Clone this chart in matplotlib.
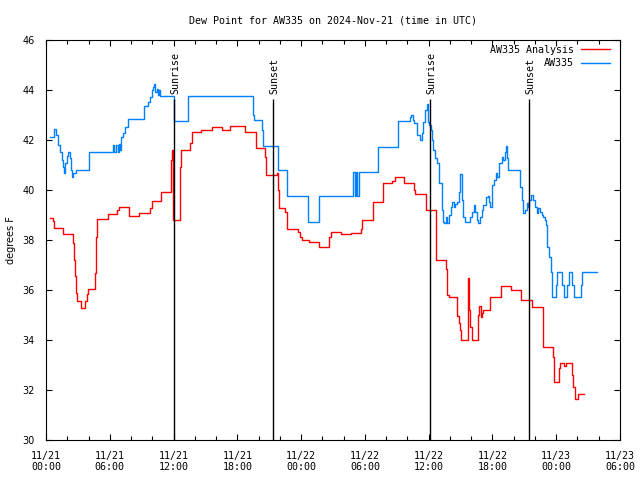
import matplotlib
matplotlib.use("Agg")
import matplotlib.pyplot as plt
from matplotlib.ticker import MultipleLocator

# hours since 2024-11-21 00:00 UTC
analysis_hours = [0.38, 0.63, 0.78, 1.63, 2.57, 2.63, 2.73, 2.79, 2.89, 3.32, 3.67, 3.83, 3.92,
                  4.61, 4.68, 4.77, 5.80, 6.71, 6.87, 7.84, 8.78, 9.78, 9.94, 10.79, 11.73,
                  11.79, 11.85, 11.98, 12.58, 12.70, 13.55, 13.76, 14.58, 15.59, 16.53, 17.30,
                  18.56, 18.72, 19.73, 20.57, 20.70, 21.70, 21.83, 21.89, 22.48, 22.64, 22.70,
                  23.73, 23.89, 24.08, 24.74, 25.71, 26.65, 26.78, 27.75, 28.66, 29.63, 29.75,
                  30.73, 30.79, 31.67, 31.73, 32.58, 32.83, 33.71, 34.65, 34.74, 35.72, 36.66,
                  36.69, 37.63, 37.75, 37.91, 38.69, 38.85, 38.95, 39.07, 39.73, 39.79, 39.89,
                  40.05, 40.67, 40.76, 40.89, 40.99, 41.14, 41.80, 42.78, 43.72, 44.71, 45.69,
                  46.73, 46.78, 47.72, 47.81, 48.23, 48.35, 48.76, 48.89, 49.51, 49.60, 49.76,
                  50.08, 50.64]
analysis_vals = [38.87, 38.75, 38.47, 38.24, 37.87, 37.2, 36.56, 35.89, 35.56, 35.27, 35.56, 35.83, 36.03,
                 36.69, 38.13, 38.83, 39.03, 39.2, 39.31, 38.96, 39.07, 39.27, 39.56, 39.93, 40.53,
                 41.2, 41.6, 38.8, 40.93, 41.6, 41.87, 42.33, 42.4, 42.53, 42.4, 42.57,
                 42.57, 42.33, 41.67, 41.33, 40.6, 40.67, 40.0, 39.27, 39.13, 38.93, 38.43,
                 38.3, 38.1, 38.0, 37.92, 37.7, 38.13, 38.32, 38.24, 38.28, 38.43, 38.79,
                 39.2, 39.53, 40.03, 40.27, 40.37, 40.5, 40.27, 40.0, 39.84, 39.2, 38.2,
                 37.2, 36.83, 35.8, 35.72, 34.96, 34.69, 34.4, 34.0, 36.47, 35.2, 34.53,
                 34.0, 35.0, 35.36, 34.9, 35.07, 35.2, 35.71, 36.16, 36.0, 35.6, 35.33,
                 34.93, 33.73, 33.33, 32.33, 32.87, 33.07, 32.95, 33.07, 32.6, 32.13, 31.64,
                 31.83, 31.83]

station_hours = [0.38, 0.75, 0.94, 1.16, 1.32, 1.48, 1.63, 1.69, 1.79, 1.95, 2.10, 2.26, 2.35, 2.47,
                 2.57, 2.79, 4.07, 6.27, 6.40, 6.60, 6.75, 6.90, 7.00, 7.06, 7.21, 7.43, 7.74,
                 9.25, 9.62, 9.78, 9.97, 10.09, 10.19, 10.28, 10.41, 10.54, 10.63, 10.72, 12.00,
                 13.39, 19.45, 19.57, 20.35, 20.44, 21.80, 22.64, 24.62, 25.71, 28.91, 29.07,
                 29.16, 29.26, 29.47, 31.20, 33.14, 34.24, 34.37, 34.50, 34.62, 34.87, 35.18,
                 35.34, 35.50, 35.66, 35.80, 35.90, 36.05, 36.20, 36.35, 36.45, 36.55, 36.75,
                 36.99, 37.22, 37.37, 37.47, 37.63, 37.75, 37.91, 38.07, 38.22, 38.38, 38.50,
                 38.66, 38.82, 38.97, 39.10, 39.25, 39.41, 39.72, 39.88, 40.04, 40.26, 40.38,
                 40.51, 40.67, 40.83, 40.99, 41.14, 41.40, 41.56, 41.68, 41.78, 41.93, 42.15,
                 42.33, 42.46, 42.61, 42.87, 43.02, 43.18, 43.27, 43.40, 43.49, 44.59, 44.75,
                 44.90, 45.06, 45.22, 45.34, 45.47, 45.63, 45.85, 46.00, 46.17, 46.32, 46.47,
                 46.63, 46.78, 46.94, 47.00, 47.10, 47.32, 47.48, 47.63, 47.95, 48.10, 48.57,
                 48.73, 49.05, 49.20, 49.45, 49.65, 50.30, 50.40, 51.80]
station_vals = [42.13, 42.44, 42.2, 41.8, 41.53, 41.2, 40.93, 40.67, 41.07, 41.36, 41.53, 41.27, 40.8, 40.53,
                40.67, 40.8, 41.5, 41.8, 41.53, 41.8, 41.53, 41.85, 41.6, 42.1, 42.3, 42.53, 42.83,
                43.36, 43.5, 43.73, 44.0, 44.1, 44.24, 43.9, 44.05, 43.8, 44.0, 43.75, 42.76,
                43.75, 43.0, 42.8, 42.4, 41.76, 40.8, 39.77, 38.73, 39.77, 40.73, 39.77,
                40.73, 39.77, 40.73, 41.73, 42.77, 42.9, 43.0, 42.8, 42.67, 42.2, 42.0,
                42.27, 42.73, 43.2, 43.44, 42.73, 42.6, 42.4, 42.0, 41.6, 41.3, 41.07,
                40.27, 39.2, 38.73, 38.67, 38.9, 38.67, 39.0, 39.3, 39.53, 39.3, 39.45,
                39.53, 39.9, 40.64, 39.6, 38.93, 38.7, 38.7, 38.9, 39.13, 39.4, 39.1,
                38.8, 38.67, 38.9, 39.2, 39.4, 39.7, 39.75, 39.5, 39.3, 40.2, 40.4,
                40.67, 40.5, 41.07, 41.33, 41.2, 41.5, 41.76, 41.3, 40.8, 40.13, 39.6,
                39.07, 39.2, 39.47, 39.3, 39.6, 39.8, 39.6, 39.3, 39.07, 39.27, 39.1,
                39.0, 38.9, 38.8, 38.6, 37.73, 37.33, 36.73, 35.73, 36.2, 36.73, 36.2,
                35.73, 36.2, 36.73, 36.2, 35.73, 36.2, 36.73, 36.73]

sun_events = [12.07, 21.38, 36.15, 45.47]
sun_labels = ["Sunrise", "Sunset", "Sunrise", "Sunset"]

tick_hours = list(range(0, 55, 6))
tick_labels = ["11/21\n00:00", "11/21\n06:00", "11/21\n12:00", "11/21\n18:00", "11/22\n00:00",
               "11/22\n06:00", "11/22\n12:00", "11/22\n18:00", "11/23\n00:00", "11/23\n06:00"]
y_ticks = [30, 32, 34, 36, 38, 40, 42, 44, 46]

mono = "DejaVu Sans Mono"
sans = "DejaVu Sans"

fig = plt.figure(figsize=(6.4, 4.8), dpi=100)
ax = fig.add_axes([46 / 640, 40 / 480, 574 / 640, 400 / 480])

ax.plot(analysis_hours, analysis_vals, color="#ff0000", lw=1.0, drawstyle="steps-post",
        label="AW335 Analysis")
ax.plot(station_hours, station_vals, color="#0080ff", lw=1.0, drawstyle="steps-post",
        label="AW335")

# sunrise / sunset markers
line_top = 43.64
for h, lab in zip(sun_events, sun_labels):
    ax.vlines(h, 30, line_top, color="black", lw=1.0)
    ax.text(h + 0.1, 43.85, lab, rotation=90, ha="center", va="bottom",
            fontsize=7.2, family=mono)

ax.set_xlim(0, 54)
ax.set_ylim(30, 46)
ax.set_xticks(tick_hours)
ax.set_xticklabels(tick_labels, family=mono, fontsize=7.2, linespacing=1.1)
ax.xaxis.set_minor_locator(MultipleLocator(2))
ax.set_yticks(y_ticks)
ax.set_yticklabels([str(v) for v in y_ticks], family=sans, fontsize=7)

ax.tick_params(which="both", direction="in", top=True, right=True, width=0.8)
ax.tick_params(axis="x", which="major", length=4, pad=8)
ax.tick_params(axis="x", which="minor", length=3)
ax.tick_params(axis="y", length=4, pad=8)
for sp in ax.spines.values():
    sp.set_linewidth(0.8)

ax.set_ylabel("degrees F", family=sans, fontsize=7, labelpad=4.5)
ax.set_title("Dew Point for AW335 on 2024-Nov-21 (time in UTC)", family=mono,
             fontsize=7.2, pad=11.8)

ax.legend(loc="upper right", bbox_to_anchor=(0.986, 0.9925), frameon=False, markerfirst=False,
          prop={"family": mono, "size": 7.2}, handlelength=2.9, handletextpad=0.7,
          borderaxespad=0.0, borderpad=0.2, labelspacing=0.32)

fig.savefig("out.png", dpi=100)
